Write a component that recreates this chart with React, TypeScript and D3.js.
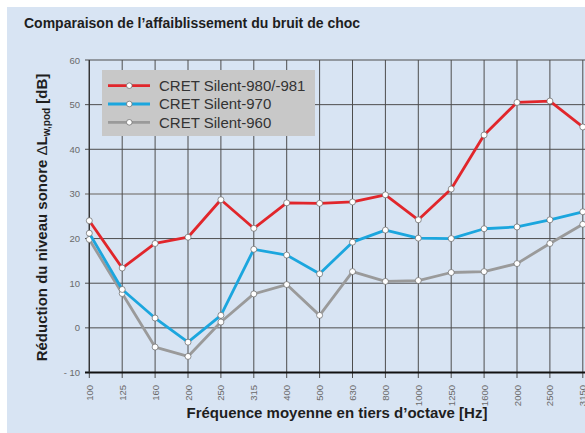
import React from "react";
import * as d3 from "d3";

const categories = ["100","125","160","200","250","315","400","500","630","800","1000","1250","1600","2000","2500","3150"];
const silent980 = [24.0,13.4,18.9,20.3,28.7,22.3,28.0,27.9,28.2,29.8,24.2,31.1,43.2,50.5,50.8,45.0];
const silent970 = [21.2,8.6,2.2,-3.2,2.8,17.6,16.3,12.1,19.2,21.9,20.1,20.0,22.2,22.6,24.2,26.0];
const silent960 = [19.8,7.7,-4.3,-6.4,1.3,7.6,9.7,2.8,12.6,10.4,10.6,12.4,12.6,14.4,18.9,23.2];
const seriesNames = ["CRET Silent-980/-981","CRET Silent-970","CRET Silent-960"];
const yTicks = [-10,0,10,20,30,40,50,60];

const W = 585, H = 433;
const colors = ["#e1262b", "#1ba6de", "#9a9a9a"];

export default function App() {
  const x = d3.scalePoint<string>().domain(categories).range([89.3, 582.8]);
  const y = d3.scaleLinear().domain([-10, 60]).range([372.5, 60]);
  const series = [silent980, silent970, silent960];
  const line = d3.line<number>().x((_, i) => x(categories[i])!).y(d => y(d));
  const font = "Arial, 'Liberation Sans', Helvetica, sans-serif";
  return (
    <div style={{ position: "fixed", left: 0, top: 0, width: W, height: H }}>
      <svg width={W} height={H} style={{ display: "block" }} fontFamily={font}>
        <rect x={0} y={0} width={W} height={H} fill="#ffffff" />
        <rect x={7} y={7} width={W - 7} height={H - 7} fill="#d8e4f3" />
        <text x={24} y={28} fontSize={14} fontWeight="bold" fill="#1e1e1e">Comparaison de l’affaiblissement du bruit de choc</text>

        {/* horizontal grid */}
        {yTicks.filter(t => t > -10).map(t => (
          <line key={"h" + t} x1={85} x2={W} y1={y(t)} y2={y(t)}
            stroke={t === 30 ? "#8e8e8e" : "#4d4d4d"} strokeWidth={t === 30 ? 1.5 : 1} />
        ))}
        {/* vertical grid */}
        {categories.map(c => (
          <line key={"v" + c} x1={x(c)} x2={x(c)} y1={y(60)} y2={378} stroke="#4d4d4d" strokeWidth={1} />
        ))}
        {/* bottom axis */}
        <line x1={85} x2={W} y1={y(-10)} y2={y(-10)} stroke="#111" strokeWidth={1.8} />
        <line x1={x("100")} x2={x("100")} y1={y(60)} y2={y(-10)} stroke="#333" strokeWidth={1.3} />

        {/* y tick labels */}
        {yTicks.map(t => (
          <text key={"yl" + t} x={80} y={y(t) + 3.5} fontSize={9.5} fill="#6a6a6a" textAnchor="end">
            {t < 0 ? "- " + Math.abs(t) : t}
          </text>
        ))}
        {/* x tick labels */}
        {categories.map(c => (
          <text key={"xl" + c} transform={`translate(${x(c)! + 3.5},385) rotate(-90)`} fontSize={9.5} fill="#6a6a6a" textAnchor="end">
            {c}
          </text>
        ))}

        {/* lines */}
        {series.slice().reverse().map((s, ri) => {
          const i = series.length - 1 - ri;
          return (
            <g key={"s" + i}>
              <path d={line(s)!} fill="none" stroke={colors[i]} strokeWidth={2.8} strokeLinejoin="round" />
              {s.map((v, j) => (
                <circle key={j} cx={x(categories[j])} cy={y(v)} r={3} fill="#fff" stroke="#666" strokeWidth={0.7} />
              ))}
            </g>
          );
        })}

        {/* legend */}
        <rect x={102} y={70} width={213} height={66} fill="#c8c8c8" />
        {seriesNames.map((n, i) => {
          const cy = 85.7 + i * 18.3;
          return (
            <g key={"lg" + i}>
              <line x1={108} x2={150} y1={cy} y2={cy} stroke={colors[i]} strokeWidth={2.8} />
              <circle cx={129.3} cy={cy} r={2.8} fill="#fff" stroke="#666" strokeWidth={0.7} />
              <text x={159} y={cy + 5.3} fontSize={15} fill="#333">{n}</text>
            </g>
          );
        })}

        {/* axis titles */}
        <text transform="translate(47,217.5) rotate(-90)" textAnchor="middle" fontSize={15} fontWeight="bold" fill="#1e1e1e">
          Réduction du niveau sonore <tspan fontWeight="normal">Δ</tspan>L<tspan dy={3} fontSize={10}>w,pod</tspan><tspan dy={-3}> [dB]</tspan>
        </text>
        <text x={337} y={418} textAnchor="middle" fontSize={15} fontWeight="bold" fill="#1e1e1e">
          Fréquence moyenne en tiers d’octave [Hz]
        </text>
      </svg>
    </div>
  );
}
